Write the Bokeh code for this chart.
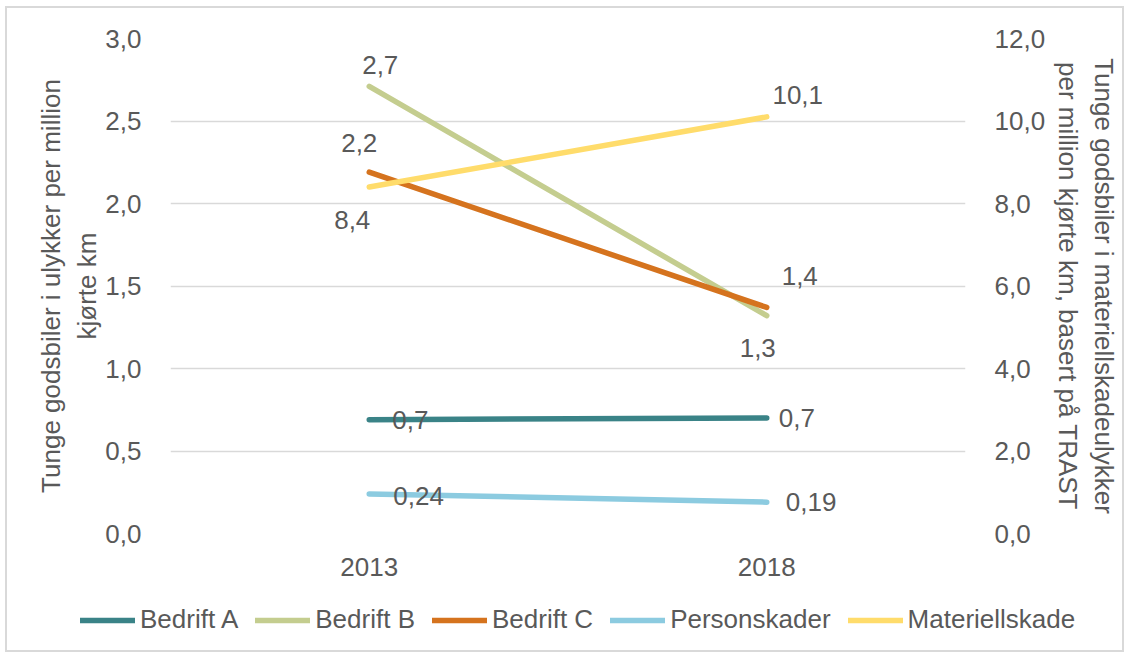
from bokeh.plotting import figure
from bokeh.layouts import column
from bokeh.models import (Range1d, LinearAxis, FactorRange, Legend, LegendItem,
                          FixedTicker, CustomJSTickFormatter)
from bokeh.core.properties import value
from bokeh.embed import file_html
from bokeh.resources import INLINE

# ---- data ----
years = ["2013", "2018"]
bedrift_a = [0.69, 0.70]
bedrift_b = [2.71, 1.32]
bedrift_c = [2.19, 1.37]
personskader = [0.24, 0.19]
materiellskade = [8.4, 10.1]  # secondary axis

left_ticks = [0.0, 0.5, 1.0, 1.5, 2.0, 2.5, 3.0]
right_ticks = [0.0, 2.0, 4.0, 6.0, 8.0, 10.0, 12.0]

FONT = "Liberation Sans"
TXT = "#595959"
FS = "26px"

p = figure(x_range=FactorRange(*years, range_padding=0), y_range=Range1d(0, 3),
           width=1115, height=580, output_backend="svg", toolbar_location=None,
           min_border_left=163, min_border_right=157, min_border_top=30, min_border_bottom=55)
p.outline_line_color = None
p.extra_y_ranges = {"right": Range1d(0, 12)}

fmt = CustomJSTickFormatter(code="return tick.toFixed(1).replace('.', ',');")

def style_axis(ax):
    ax.axis_line_color = None
    ax.major_tick_line_color = None
    ax.minor_tick_line_color = None
    ax.major_label_text_font = FONT
    ax.major_label_text_font_size = FS
    ax.major_label_text_color = TXT
    ax.axis_label_text_font = FONT
    ax.axis_label_text_font_size = FS
    ax.axis_label_text_color = TXT
    ax.axis_label_text_font_style = "normal"

yl = p.yaxis[0]
yl.ticker = FixedTicker(ticks=left_ticks)
yl.formatter = fmt
yl.axis_label = "Tunge godsbiler i ulykker per million\nkjørte km"
yl.major_label_standoff = 23
yl.axis_label_standoff = 0
style_axis(yl)

yr = LinearAxis(y_range_name="right", ticker=FixedTicker(ticks=right_ticks), formatter=fmt,
                axis_label="Tunge godsbiler i materiellskadeulykker\nper million kjørte km, basert på TRAST")
yr.major_label_standoff = 23
yr.axis_label_standoff = 5
style_axis(yr)
p.add_layout(yr, "right")

xa = p.xaxis[0]
xa.major_label_standoff = 18
style_axis(xa)

p.xgrid.grid_line_color = None
p.ygrid.grid_line_color = "#d9d9d9"
p.ygrid.grid_line_width = 1.5
p.ygrid.ticker = FixedTicker(ticks=left_ticks)

series = [
    ("Bedrift A", bedrift_a, "#3a8387", "default", 1),
    ("Bedrift B", bedrift_b, "#c4cd8f", "default", 1),
    ("Bedrift C", bedrift_c, "#d5731e", "default", 1),
    ("Personskader", personskader, "#8ccbe0", "default", 2),
    ("Materiellskade", materiellskade, "#ffdc6b", "right", 1),
]

# label placement (screen px): (x_offset, y_offset, align) per series per year
label_pos = {
    "Bedrift A": [(23, 0, "left"), (12, 0, "left")],
    "Bedrift B": [(11, -21, "center"), (-9, 32, "center")],
    "Bedrift C": [(-10, -29, "center"), (33, -31, "center")],
    "Personskader": [(24, 2, "left"), (19, 0, "left")],
    "Materiellskade": [(-17, 33, "center"), (31, -22, "center")],
}

for name, vals, color, rng, dec in series:
    p.line(x=years, y=vals, line_color=color, line_width=5.5, line_cap="round",
           y_range_name=rng)

for name, vals, color, rng, dec in series:
    for i, (yr_, v) in enumerate(zip(years, vals)):
        dx, dy, al = label_pos[name][i]
        txt = f"{v:.{dec}f}".replace(".", ",")
        p.text(x=[yr_], y=[v], text=[txt], x_offset=dx, y_offset=dy, text_align=al,
               text_baseline="middle", text_font=value(FONT), text_font_size=FS,
               text_color=TXT, y_range_name=rng)

# ---- legend strip (separate figure so the legend is not clipped by the plot frame) ----
pl = figure(width=1115, height=62, output_backend="svg", toolbar_location=None,
            x_range=Range1d(0, 1), y_range=Range1d(0, 1), x_axis_type=None, y_axis_type=None,
            min_border=0)
pl.outline_line_color = None
pl.xgrid.visible = False
pl.ygrid.visible = False
items = []
for name, vals, color, rng, dec in series:
    # legend swatch renderer: points lie outside the strip's ranges, so only the swatch shows
    r = pl.line(x=[5, 6], y=[5, 6], line_color=color, line_width=5.5, line_cap="round")
    items.append(LegendItem(label=name, renderers=[r]))

legend = Legend(items=items, orientation="horizontal", location=(73, 15),
                glyph_width=55, glyph_height=30, label_height=30, label_standoff=5, spacing=17,
                padding=0, margin=0, border_line_alpha=0, background_fill_alpha=0,
                label_text_font=FONT, label_text_font_size=FS, label_text_color=TXT)
pl.add_layout(legend, "center")

for fig in (p, pl):
    if "frame_align" in fig.properties():
        fig.frame_align = False

layout = column(p, pl, spacing=0, margin=(8, 0, 0, 7))
layout.styles = {"outline": "2px solid #d9d9d9"}

open("out.html", "w").write(file_html(layout, INLINE))
